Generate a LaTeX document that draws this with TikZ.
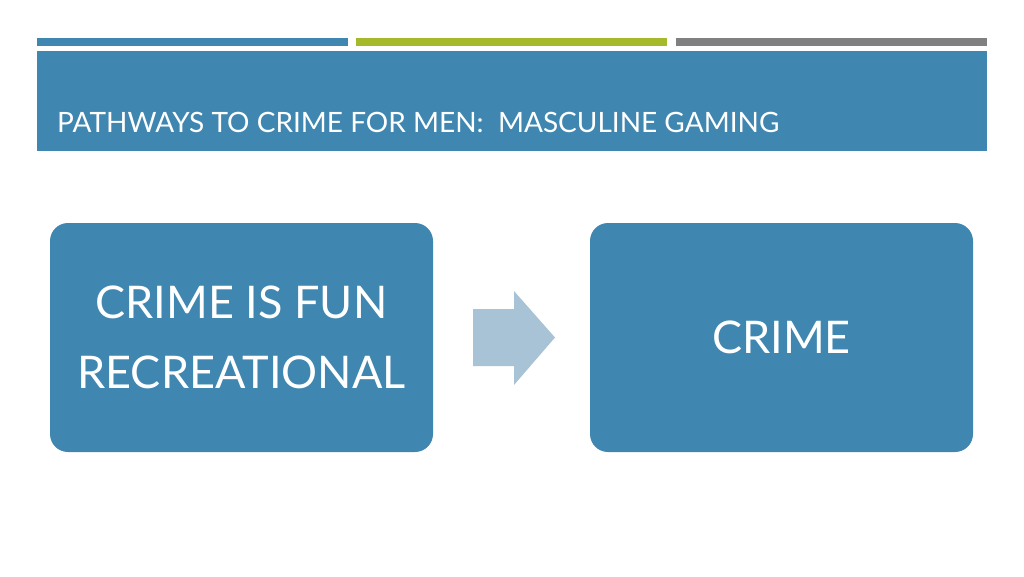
\documentclass[tikz,border=0pt]{standalone}
\usepackage{fontspec}
\setmainfont{Lato}
\definecolor{slideblue}{RGB}{63,135,176}
\definecolor{slidegreen}{RGB}{165,185,42}
\definecolor{slidegray}{RGB}{128,128,128}
\definecolor{arrowblue}{RGB}{169,195,214}
\begin{document}
\begin{tikzpicture}[x=1pt, y=-1pt,
	card/.style={fill=slideblue, rounded corners=18pt, inner sep=0pt, minimum width=383pt, minimum height=229pt, text=white, align=center, font=\fontsize{45}{70}\selectfont}]
			\useasboundingbox (0, 0) rectangle (1024, 576);
			\fill[slideblue] (37, 38) rectangle (348, 46);
			\fill[slidegreen] (356, 38) rectangle (667, 46);
			\fill[slidegray] (676, 38) rectangle (987, 46);
			\fill[slideblue] (37, 51) rectangle (987, 151);
			\node[anchor=base west, text=white, inner sep=0pt, font=\fontsize{28}{32}\selectfont] (title) at (57, 132) {PATHWAYS TO CRIME FOR MEN:\ \ MASCULINE GAMING};
			\node[card] (a) at (241.5, 337.5) {CRIME IS FUN\\RECREATIONAL};
			\node[card] (b) at (781.5, 337.5) {CRIME};
			\fill[arrowblue] (473, 309) -- (514, 309) -- (514, 291) -- (555, 337.5) -- (514, 385) -- (514, 366) -- (473, 366) -- cycle;
		\end{tikzpicture}
\end{document}
